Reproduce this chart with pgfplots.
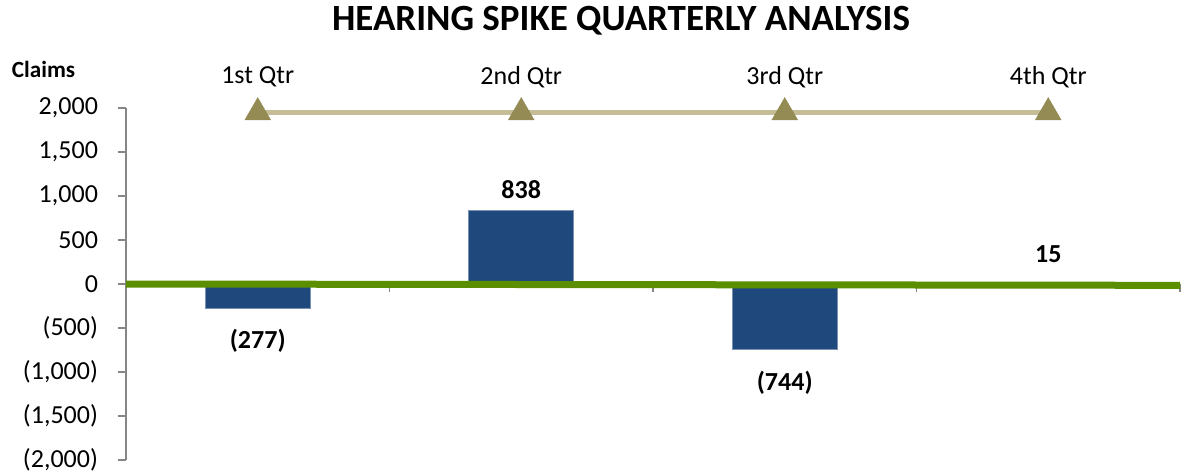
\documentclass[border=0pt]{standalone}
\usepackage{pgfplots}
\pgfplotsset{compat=1.18}
\usepackage{fontspec}
\setmainfont{Carlito}
\definecolor{barblue}{HTML}{1F497D}
\definecolor{zerogreen}{HTML}{5B8F00}
\definecolor{tanline}{HTML}{C4BD97}
\definecolor{olivemark}{HTML}{948A54}
\definecolor{axisgray}{HTML}{868686}
\begin{document}
\begin{tikzpicture}
\path[use as bounding box] (-63pt,-6.5pt) rectangle (528.5pt,230pt);
\begin{axis}[
  at={(0pt,0pt)}, anchor=south west,
  scale only axis, width=527pt, height=176pt,
  xmin=-0.5, xmax=3.5, ymin=-2000, ymax=2000,
  axis y line*=left, axis x line*=top,
  x axis line style={draw=none},
  y axis line style={axisgray, line width=0.6pt, -},
  xtick={0,1,2,3},
  xticklabels={1st Qtr,2nd Qtr,3rd Qtr,4th Qtr},
  major x tick style={draw=none},
  xticklabel style={font=\fontsize{13}{15}\selectfont, anchor=center, yshift=11.5pt},
  ytick={-2000,-1500,-1000,-500,0,500,1000,1500,2000},
  yticklabels={{(2,000)},{(1,500)},{(1,000)},{(500)},0,500,{1,000},{1,500},{2,000}},
  yticklabel style={font=\fontsize{13}{15}\selectfont, xshift=-6.5pt},
  major y tick style={axisgray, line width=0.6pt},
  tick align=outside, major tick length=4pt,
  clip=false,
]
% bars
\addplot[ybar, bar width=52.5pt, fill=barblue, draw=barblue!60!white, line width=0.3pt]
  coordinates {(0,-277) (1,838) (2,-744) (3,15)};
% category boundary ticks on zero line
\draw[axisgray, line width=0.6pt] (axis cs:0.5,0) -- (axis cs:0.5,-90);
\draw[axisgray, line width=0.6pt] (axis cs:1.5,0) -- (axis cs:1.5,-90);
\draw[axisgray, line width=0.6pt] (axis cs:2.5,0) -- (axis cs:2.5,-90);
\draw[axisgray, line width=0.6pt] (axis cs:3.5,0) -- (axis cs:3.5,-90);
% zero line
\addplot[zerogreen, line width=3.5pt] coordinates {(-0.5,0) (3.5,-15)};
% triangle series
\addplot[tanline, line width=2.5pt, mark=triangle*, mark size=7.5pt,
  mark options={fill=olivemark, draw=olivemark, line width=0.1pt}]
  coordinates {(0,1950) (1,1950) (2,1950) (3,1950)};
% data labels
\addplot[draw=none, mark=none, nodes near coords, point meta=explicit symbolic,
  nodes near coords style={anchor=center, font=\fontsize{13}{15}\bfseries\selectfont}]
  table[meta=lab] {
x y lab
0 -640 (277)
1 1070 838
2 -1125 (744)
3 345 15
};
\end{axis}
\node[font=\fontsize{18.5}{22}\bfseries\selectfont] at (247.5pt,219.5pt) {HEARING SPIKE QUARTERLY ANALYSIS};
\node[font=\fontsize{11.6}{13}\bfseries\selectfont] at (-41.25pt,195.5pt) {Claims};
\end{tikzpicture}
\end{document}
